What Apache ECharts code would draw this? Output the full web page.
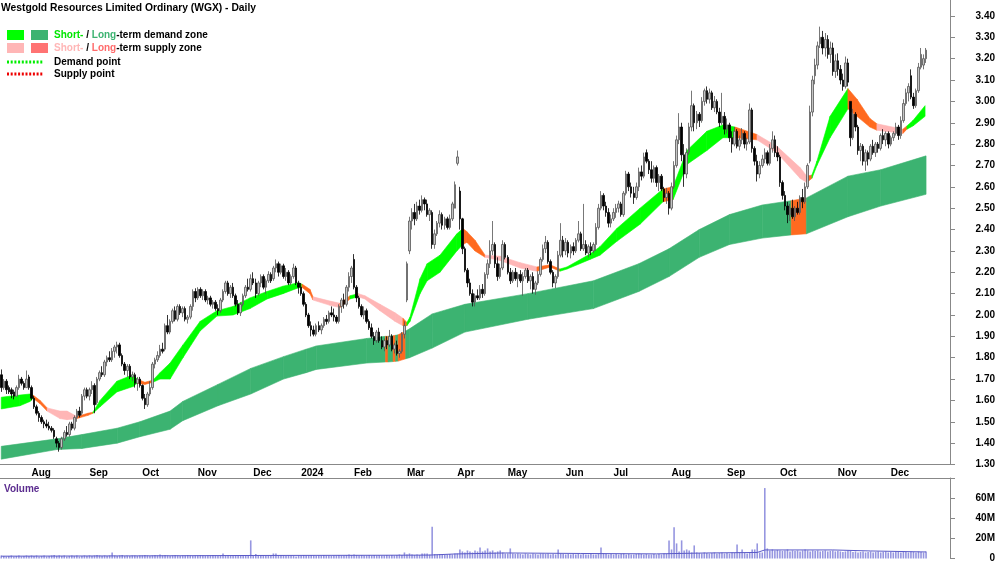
<!DOCTYPE html>
<html><head><meta charset="utf-8">
<script src="https://cdn.jsdelivr.net/npm/echarts@6/dist/echarts.min.js"></script>
<style>html,body{margin:0;padding:0;background:#fff}#c{width:1000px;height:562px}</style>
</head><body><div id="c"></div>
<script>
// ---------- DATA ----------
const monthNames = ['Jul','Aug','Sep','Oct','Nov','Dec','2024','Feb','Mar','Apr','May','Jun','Jul','Aug','Sep','Oct','Nov','Dec'];
const monthDays = [12,23,21,22,22,19,21,21,20,20,23,19,23,22,21,23,21,15];
const padDays = 9;

const openP = [
1.72,1.66,1.69,1.66,1.65,1.64,1.62,1.66,1.70,1.68,1.66,1.71,
1.66,1.61,1.57,1.54,1.52,1.50,1.49,1.48,1.47,1.46,1.42,1.40,1.38,1.42,1.45,1.44,1.49,1.47,1.52,1.55,1.54,1.62,1.65,
1.62,1.65,1.67,1.59,1.70,1.73,1.72,1.78,1.80,1.79,1.83,1.85,1.86,1.81,1.77,1.74,1.76,1.71,1.72,1.68,1.70,
1.67,1.61,1.58,1.63,1.66,1.77,1.79,1.81,1.84,1.84,1.95,1.92,1.97,2.02,1.98,2.04,2.01,2.03,1.98,1.99,2.04,2.11,
2.08,2.12,2.09,2.11,2.07,2.08,2.05,2.06,2.03,2.02,2.07,2.11,2.15,2.10,2.13,2.09,2.05,2.01,2.05,2.09,2.13,2.12,
2.17,2.15,2.10,2.15,2.18,2.13,2.16,2.19,2.17,2.22,2.24,2.20,2.23,2.18,2.20,2.15,2.18,2.22,2.15,
2.13,2.10,2.05,2.00,1.95,1.93,1.91,1.95,1.93,1.95,1.98,1.97,2.01,2.00,1.99,1.97,2.04,2.07,2.05,2.13,2.18,
2.26,2.13,2.08,2.04,2.00,2.02,1.97,1.94,1.90,1.88,1.92,1.88,1.85,1.88,1.86,1.90,1.84,1.86,1.82,1.83,1.91,
2.07,2.30,2.44,2.48,2.45,2.51,2.49,2.54,2.52,2.47,2.48,2.33,2.38,2.43,2.47,2.42,2.45,2.41,2.45,2.50,
2.71,2.58,2.45,2.31,2.21,2.15,2.10,2.06,2.09,2.08,2.12,2.10,2.19,2.24,2.30,2.33,2.24,2.18,2.22,2.33,
2.27,2.20,2.16,2.20,2.17,2.19,2.16,2.18,2.21,2.16,2.18,2.12,2.15,2.19,2.26,2.31,2.34,2.25,2.20,2.15,2.18,2.28,2.35,
2.30,2.34,2.29,2.32,2.30,2.35,2.38,2.31,2.33,2.29,2.32,2.30,2.33,2.41,2.50,2.56,2.51,2.48,2.43,
2.45,2.48,2.50,2.52,2.47,2.57,2.66,2.60,2.57,2.55,2.60,2.67,2.65,2.76,2.72,2.68,2.64,2.69,2.62,2.65,2.59,2.55,2.57,
2.50,2.60,2.70,2.82,2.88,2.75,2.66,2.76,2.88,2.98,2.90,2.94,2.91,3.00,3.05,3.01,3.04,2.97,3.00,2.95,2.90,2.93,
2.87,2.89,2.83,2.80,2.86,2.79,2.82,2.85,2.80,2.81,2.96,2.78,2.72,2.66,2.70,2.73,2.76,2.71,2.78,2.82,2.76,
2.74,2.62,2.56,2.51,2.47,2.50,2.46,2.50,2.48,2.55,2.53,2.60,2.72,2.95,3.12,3.17,3.27,3.30,3.25,3.29,3.22,3.25,3.14,
3.19,3.15,3.10,3.07,3.18,3.00,2.83,2.94,2.88,2.77,2.79,2.72,2.76,2.73,2.79,2.76,2.80,2.78,2.84,2.82,2.85,
2.80,2.83,2.85,2.88,2.84,2.91,2.99,3.04,3.12,3.02,2.98,3.05,3.16,3.17,3.20
];
const highP = [
1.745,1.70,1.70,1.67,1.66,1.65,1.67,1.72,1.71,1.69,1.74,1.72,
1.67,1.62,1.58,1.55,1.53,1.51,1.51,1.50,1.48,1.47,1.43,1.41,1.43,1.46,1.48,1.50,1.50,1.53,1.56,1.57,1.63,1.66,1.66,
1.66,1.69,1.68,1.71,1.74,1.76,1.79,1.81,1.83,1.845,1.86,1.875,1.87,1.82,1.78,1.77,1.77,1.735,1.73,1.71,1.71,
1.675,1.63,1.64,1.69,1.78,1.80,1.83,1.86,1.87,1.96,2.00,1.98,2.03,2.04,2.05,2.05,2.04,2.04,2.00,2.05,2.12,2.125,
2.13,2.13,2.12,2.12,2.09,2.09,2.07,2.07,2.05,2.08,2.12,2.16,2.16,2.14,2.15,2.10,2.07,2.06,2.10,2.14,2.17,2.19,
2.20,2.17,2.16,2.19,2.19,2.17,2.205,2.20,2.23,2.26,2.25,2.24,2.24,2.22,2.21,2.19,2.24,2.23,2.16,
2.15,2.11,2.06,2.01,1.97,1.95,1.96,1.97,1.96,1.99,2.00,2.02,2.04,2.03,2.00,2.05,2.08,2.10,2.14,2.20,2.23,
2.285,2.14,2.09,2.05,2.04,2.03,1.98,1.96,1.92,1.93,1.94,1.90,1.89,1.90,1.93,1.91,1.87,1.88,1.84,1.92,1.97,
2.25,2.46,2.50,2.52,2.53,2.54,2.56,2.55,2.54,2.50,2.49,2.40,2.44,2.49,2.48,2.46,2.46,2.47,2.53,2.625,
2.77,2.60,2.455,2.32,2.22,2.17,2.12,2.10,2.12,2.14,2.145,2.20,2.26,2.35,2.44,2.34,2.27,2.24,2.35,2.34,
2.28,2.22,2.21,2.22,2.20,2.21,2.20,2.22,2.22,2.19,2.20,2.16,2.205,2.27,2.33,2.37,2.35,2.26,2.21,2.19,2.30,2.43,2.37,
2.36,2.35,2.33,2.34,2.36,2.44,2.39,2.52,2.35,2.33,2.34,2.34,2.43,2.52,2.58,2.57,2.53,2.50,2.47,
2.50,2.52,2.535,2.53,2.58,2.675,2.67,2.62,2.60,2.62,2.69,2.70,2.76,2.775,2.73,2.72,2.70,2.70,2.66,2.66,2.60,2.595,2.58,
2.62,2.72,2.84,2.945,2.90,2.80,2.78,2.90,3.05,2.99,2.955,2.95,3.02,3.06,3.07,3.06,3.05,3.025,3.01,2.97,3.04,2.95,
2.92,2.90,2.86,2.88,2.87,2.84,2.875,2.86,2.83,2.99,2.97,2.79,2.75,2.72,2.75,2.78,2.77,2.80,2.86,2.84,2.79,
2.75,2.63,2.58,2.53,2.52,2.54,2.51,2.53,2.56,2.59,2.62,2.71,2.98,3.12,3.20,3.28,3.35,3.33,3.32,3.31,3.28,3.275,3.22,
3.225,3.17,3.13,3.21,3.20,3.00,2.965,2.95,2.89,2.805,2.80,2.775,2.77,2.80,2.82,2.81,2.81,2.85,2.87,2.86,2.86,
2.84,2.86,2.90,2.89,2.93,3.01,3.06,3.085,3.15,3.04,3.06,3.18,3.25,3.22,3.25
];
const lowP = [
1.64,1.65,1.63,1.63,1.61,1.605,1.62,1.65,1.67,1.65,1.66,1.65,
1.60,1.56,1.53,1.50,1.49,1.47,1.47,1.46,1.45,1.42,1.38,1.36,1.37,1.41,1.43,1.43,1.46,1.46,1.50,1.52,1.53,1.60,1.61,
1.60,1.63,1.54,1.58,1.69,1.71,1.71,1.76,1.78,1.78,1.80,1.82,1.80,1.76,1.72,1.71,1.70,1.69,1.66,1.645,1.66,
1.60,1.56,1.57,1.62,1.65,1.75,1.78,1.80,1.82,1.83,1.91,1.91,1.96,1.97,1.97,2.00,1.99,1.97,1.96,1.98,2.02,2.06,
2.07,2.08,2.07,2.06,2.05,2.04,2.03,2.02,2.00,2.01,2.06,2.10,2.09,2.08,2.08,2.04,2.00,1.995,2.04,2.08,2.11,2.11,
2.14,2.08,2.09,2.13,2.12,2.10,2.15,2.15,2.16,2.20,2.18,2.19,2.17,2.16,2.14,2.14,2.17,2.14,2.10,
2.09,2.04,1.99,1.94,1.90,1.90,1.90,1.92,1.91,1.94,1.955,1.96,1.99,1.97,1.96,1.96,2.01,2.03,2.04,2.11,2.15,
2.12,2.06,2.03,1.99,1.98,1.96,1.93,1.89,1.86,1.87,1.87,1.84,1.83,1.84,1.85,1.83,1.82,1.81,1.80,1.82,1.89,
2.06,2.285,2.40,2.42,2.44,2.47,2.48,2.49,2.46,2.44,2.31,2.31,2.37,2.41,2.40,2.40,2.40,2.40,2.44,2.50,
2.70,2.40,2.285,2.20,2.13,2.09,2.04,2.04,2.07,2.07,2.08,2.09,2.17,2.22,2.28,2.22,2.16,2.17,2.21,2.26,
2.19,2.145,2.15,2.16,2.13,2.15,2.09,2.17,2.15,2.12,2.10,2.095,2.14,2.18,2.25,2.29,2.24,2.19,2.13,2.125,2.17,2.27,2.27,
2.28,2.27,2.265,2.28,2.29,2.34,2.30,2.30,2.28,2.27,2.28,2.29,2.30,2.40,2.49,2.49,2.46,2.41,2.41,
2.44,2.455,2.48,2.46,2.46,2.56,2.58,2.55,2.52,2.54,2.58,2.63,2.64,2.71,2.66,2.62,2.62,2.60,2.58,2.58,2.53,2.52,2.47,
2.49,2.59,2.69,2.80,2.72,2.60,2.64,2.75,2.86,2.86,2.87,2.88,2.90,2.98,2.99,2.99,2.96,2.95,2.94,2.88,2.89,2.845,
2.85,2.81,2.76,2.79,2.78,2.77,2.80,2.78,2.77,2.80,2.76,2.70,2.625,2.64,2.69,2.71,2.70,2.70,2.76,2.74,2.72,
2.60,2.54,2.49,2.43,2.44,2.45,2.44,2.47,2.47,2.50,2.52,2.59,2.71,2.93,3.08,3.15,3.25,3.22,3.21,3.20,3.18,3.12,3.11,
3.12,3.08,3.05,3.06,3.07,2.79,2.82,2.86,2.75,2.72,2.70,2.675,2.70,2.72,2.75,2.74,2.76,2.77,2.80,2.79,2.78,
2.79,2.815,2.84,2.82,2.825,2.90,2.98,3.00,3.01,2.965,2.97,3.04,3.15,3.15,3.18
];
const closeP = [
1.66,1.69,1.65,1.64,1.63,1.62,1.66,1.70,1.68,1.66,1.70,1.66,
1.61,1.57,1.54,1.52,1.50,1.49,1.48,1.47,1.46,1.43,1.40,1.38,1.42,1.45,1.44,1.49,1.47,1.52,1.55,1.53,1.62,1.65,1.62,
1.65,1.67,1.58,1.70,1.73,1.72,1.78,1.80,1.79,1.83,1.85,1.86,1.81,1.77,1.74,1.76,1.71,1.72,1.68,1.70,1.67,
1.61,1.58,1.63,1.66,1.77,1.79,1.81,1.84,1.83,1.95,1.92,1.97,2.02,1.98,2.04,2.01,2.03,1.98,1.99,2.04,2.11,2.08,
2.12,2.09,2.11,2.07,2.08,2.05,2.06,2.03,2.02,2.07,2.11,2.15,2.10,2.13,2.09,2.05,2.01,2.05,2.09,2.13,2.12,2.17,
2.15,2.10,2.15,2.18,2.13,2.16,2.19,2.16,2.22,2.24,2.20,2.23,2.18,2.20,2.15,2.18,2.22,2.15,2.13,
2.10,2.05,2.00,1.95,1.93,1.91,1.95,1.93,1.95,1.98,1.97,2.01,2.00,1.99,1.97,2.04,2.07,2.05,2.13,2.18,2.22,
2.13,2.08,2.04,2.00,2.02,1.97,1.94,1.90,1.88,1.92,1.88,1.85,1.88,1.86,1.90,1.84,1.86,1.82,1.83,1.91,1.95,
2.24,2.44,2.48,2.45,2.51,2.49,2.54,2.52,2.47,2.49,2.33,2.38,2.43,2.47,2.42,2.45,2.41,2.45,2.52,2.61,
2.74,2.45,2.31,2.21,2.15,2.10,2.06,2.09,2.08,2.12,2.10,2.19,2.24,2.30,2.33,2.24,2.18,2.22,2.33,2.27,
2.20,2.16,2.20,2.17,2.19,2.16,2.18,2.21,2.16,2.18,2.12,2.15,2.19,2.26,2.31,2.34,2.25,2.20,2.15,2.18,2.28,2.35,2.30,
2.34,2.29,2.32,2.30,2.35,2.38,2.31,2.33,2.29,2.32,2.30,2.33,2.41,2.50,2.56,2.51,2.48,2.43,2.45,
2.48,2.50,2.52,2.47,2.57,2.66,2.60,2.57,2.55,2.60,2.67,2.65,2.74,2.72,2.68,2.64,2.69,2.62,2.65,2.59,2.55,2.57,2.50,
2.60,2.70,2.82,2.88,2.75,2.66,2.76,2.88,2.98,2.90,2.94,2.91,3.00,3.05,3.01,3.04,2.97,3.00,2.95,2.90,2.93,2.87,
2.89,2.83,2.80,2.86,2.79,2.82,2.85,2.80,2.81,2.96,2.78,2.72,2.66,2.70,2.73,2.76,2.71,2.78,2.82,2.76,2.74,
2.62,2.56,2.51,2.47,2.50,2.46,2.50,2.48,2.55,2.53,2.60,2.70,2.95,3.10,3.17,3.26,3.30,3.25,3.29,3.22,3.25,3.14,3.19,
3.15,3.10,3.07,3.18,3.09,2.83,2.94,2.88,2.77,2.79,2.72,2.76,2.73,2.79,2.76,2.80,2.78,2.84,2.82,2.85,2.80,
2.83,2.85,2.88,2.84,2.91,2.99,3.04,3.07,3.02,2.98,3.05,3.16,3.22,3.20,3.24
];
// volume in millions
const volumeM = [
3,2.5,2,2.5,3,2,2.5,3,2,2.5,3,2.5,
3,2.5,3,2,2.5,3,2,2.5,3,3.5,2.5,3,2.5,3,2,2.5,3,2.5,3,2,2.5,3,2.5,
3,2.5,3,3.5,3,2.5,3,2.5,3,6,3,2.5,3,3.5,2.5,3,2.5,3,3,2.5,3,
3,3.5,3,2.5,3,3.5,3,4,3,3.5,3,2.5,3,3.5,3,2.5,3,3,3.5,3,2.5,3,
3,3.5,3,2.5,3,3,3.5,3,2.5,3,5,3,3.5,3,2.5,3,3,3.5,3,2.5,3,18,
3.5,4.5,3,3.5,3,2.5,3,3.5,5,5,3,3.5,3,2.5,3,3,2.5,2,3,
3,3.5,3,3,3.5,3,2.5,3,3,3.5,3,3,2.5,3,3,3.5,3,3,3.5,4,3.5,
4,3.5,3,3.5,3,3,3.5,3,3.5,3,3.5,3,3,3.5,3,3.5,3,3.5,4,3.5,6,
4,5,4,3.5,4,3.5,5,5,5,4,31.5,4.5,4,4.5,4,3.5,4,4.5,4,5,
5,9,7,6,8,7,6,8,7,11,7,8,10,7,8,6,7,8,6,5,
5,10,5,4.5,5,4.5,4,5,4.5,4,5,4.5,4,5,5,4.5,5,4,4.5,4,9,5,4.5,
4,4.5,4,4.5,4,5,4,4.5,4,4,4.5,4,4,5,11,5,4.5,4,4.5,
4,4.5,4,4.5,5,4,4.5,4,4,4.5,5,4.5,4,4.5,4,4,4.5,4,4.5,4,5,4.5,18,
9,31,15,7,18,8,9,8,6,13,6,5.5,5,6,5.5,5,5.5,6,5,5.5,6,5,
5.5,5,6,5.5,14,6,9,5.5,5,6,9,9,15,6,6,70,10,8,9,8,8.5,
8,7.5,8,9,7,8,7.5,8,7,8,9,8,7,8,7.5,8,7,7.5,8,7,7.5,8,7,
7.5,7,6.5,7,8,7.5,6.5,7,6,6.5,7,6,6.5,7,6,6.5,7,6,6.5,7,6,
6.5,6,7,6.5,6,7,6.5,6,7,6.5,6,7,6.5,6,7
];
const volAvgX = [0,50,100,150,170,180,200,230,260,280,300,303,330,345,367];
const volAvgM = [2.3,2.6,3.0,3.2,3.4,4.5,5.5,5.0,4.6,5.5,6.0,8.5,8.5,7.5,6.5];

// long-term zone (day index, lower edge, upper edge), state of each segment: G demand / O supply
const longX  = [0,22,32,46,55,67,72,86,99,112,121,125,145,152.5,153.5,155.5,156.5,157.5,160.5,162,171,184,209,235,253,265,277,289,302,313.5,319.5,336,349,367];
const longLo = [1.325,1.37,1.375,1.40,1.43,1.465,1.505,1.575,1.63,1.70,1.73,1.745,1.775,1.78,1.78,1.782,1.783,1.784,1.795,1.80,1.845,1.92,1.98,2.03,2.11,2.18,2.27,2.33,2.36,2.375,2.38,2.46,2.51,2.565];
const longHi = [1.385,1.42,1.44,1.47,1.50,1.55,1.595,1.675,1.75,1.805,1.84,1.855,1.89,1.90,1.90,1.903,1.905,1.907,1.925,1.935,2.005,2.05,2.10,2.16,2.24,2.31,2.40,2.47,2.515,2.535,2.548,2.65,2.68,2.745];
const longState = 'GGGGGGGGGGGGGOGOGOGGGGGGGGGGGOGGG'.split('');

// short-term zone: G demand / P supply / O turning
const shortX  = [0,7.4,11.4,12.6,15.4,18.2,23.3,26.1,30,34.4,36.4,39.2,45.9,52.3,53.9,57,60.2,63,67,72.1,78.9,85.6,92,98.7,105.5,111.8,117.4,119.3,122.5,123.7,130.5,134.4,138.4,141.6,144.3,150.3,156.3,159.4,161,162.2,166.2,169,174.1,180.8,183.2,184.8,188,192,198,205.9,212.6,217.8,221.7,224.5,233.6,237.6,244.3,253.5,262.6,266.6,272.1,280,286.4,291.2,299.9,307.8,317,319.7,321.7,323.7,328.9,336,339.6,344.7,347.5,357.8,359.4,361.8,366.6];
const shortLo = [1.56,1.575,1.595,1.61,1.585,1.55,1.515,1.51,1.515,1.53,1.54,1.57,1.64,1.665,1.68,1.675,1.685,1.70,1.70,1.80,1.925,1.995,2.00,2.03,2.075,2.10,2.125,2.13,2.10,2.07,2.045,2.035,2.075,2.085,2.075,2.02,1.97,1.95,1.95,1.97,2.10,2.16,2.20,2.30,2.33,2.34,2.30,2.27,2.255,2.22,2.205,2.225,2.205,2.215,2.26,2.28,2.345,2.425,2.53,2.54,2.705,2.77,2.83,2.83,2.82,2.76,2.64,2.62,2.64,2.70,2.83,2.965,2.93,2.88,2.865,2.85,2.87,2.885,2.93];
const shortHi = [1.615,1.625,1.63,1.625,1.60,1.565,1.55,1.55,1.525,1.54,1.545,1.60,1.69,1.72,1.70,1.685,1.695,1.73,1.775,1.86,1.97,2.02,2.04,2.08,2.11,2.135,2.15,2.145,2.12,2.085,2.065,2.055,2.09,2.10,2.09,2.05,2.01,1.985,1.965,1.99,2.17,2.24,2.28,2.38,2.405,2.39,2.35,2.28,2.275,2.245,2.225,2.235,2.215,2.225,2.285,2.32,2.405,2.50,2.59,2.60,2.77,2.86,2.89,2.88,2.845,2.79,2.69,2.65,2.655,2.72,2.93,3.06,3.01,2.92,2.895,2.87,2.885,2.91,2.98];
const shortState = ('GGGOOPPPOO'+'GGGGOOGGGG'+'GGGGGGGOOP'+'POGPPPPOGG'+'GGGGOOOPPP'+'OOGGGGGGOG'+'GGGOPPPOGG'+'GOOOPOGG').split('');

// ---------- BUILD ----------
const cats = [], labelAt = [];
monthDays.forEach((n, m) => { for (let d = 0; d < n; d++) { cats.push(String(cats.length)); labelAt.push(d === 0 && m > 0 ? monthNames[m] : ''); } });
for (let k = 0; k < padDays; k++) { cats.push(String(cats.length)); labelAt.push(''); }
const N = cats.length;
const isMonth = (i) => labelAt[i] !== '';

const FONT = '"Liberation Sans", Arial, sans-serif';
const COL = { G: '#00ff00', P: '#ffb6b6', O: '#ff6a1f', L: '#3cb371' };

function bandSeries(xs, lo, hi, st, colorMap, z) {
  return {
    type: 'custom', xAxisIndex: 1, yAxisIndex: 0, z: z, silent: true,
    data: xs.slice(0, -1).map((x, k) => [x, xs[k + 1], lo[k], hi[k], lo[k + 1], hi[k + 1], k]),
    encode: { x: [0, 1], y: [2, 3, 4, 5] },
    renderItem: function (params, api) {
      const x0 = api.value(0), x1 = api.value(1);
      const pts = [api.coord([x0, api.value(3)]), api.coord([x1, api.value(5)]),
                   api.coord([x1, api.value(4)]), api.coord([x0, api.value(2)])];
      const c = colorMap[st[api.value(6)]];
      return { type: 'polygon', shape: { points: pts }, style: { fill: c, stroke: c, lineWidth: 0.6 } };
    }
  };
}

const chart = echarts.init(document.getElementById('c'));
const lf = 'bold 10px ' + FONT;
const hiddenValueAxis = (g) => ({ type: 'value', gridIndex: g, min: -0.5, max: N - 0.5, show: false,
  axisLine: { show: false, onZero: false }, axisTick: { show: false }, axisLabel: { show: false }, splitLine: { show: false } });
chart.setOption({
  animation: false,
  backgroundColor: '#fff',
  grid: [
    { left: 0, right: 50, top: -5.4, height: 469.9, outerBoundsMode: 'none', containLabel: false },
    { left: 0, right: 50, top: 478, height: 80.5, outerBoundsMode: 'none', containLabel: false }
  ],
  xAxis: [
    { type: 'category', gridIndex: 0, data: cats, boundaryGap: true,
      axisLine: { onZero: false, lineStyle: { color: '#888' } },
      axisTick: { interval: isMonth, length: 4, lineStyle: { color: '#888' } },
      axisLabel: { interval: isMonth, formatter: (v, i) => labelAt[i], align: 'left', margin: 4,
                   fontSize: 10, fontWeight: 'bold', color: '#000', fontFamily: FONT },
      splitLine: { show: false } },
    hiddenValueAxis(0),
    { type: 'category', gridIndex: 1, data: cats, position: 'top',
      axisLine: { onZero: false, lineStyle: { color: '#888' } },
      axisTick: { show: false }, axisLabel: { show: false } },
    hiddenValueAxis(1)
  ],
  yAxis: [
    { type: 'value', gridIndex: 0, position: 'right', min: 1.3, max: 3.5, interval: 0.1,
      axisLine: { show: true, onZero: false, lineStyle: { color: '#888' } },
      axisTick: { show: true, inside: false, length: 5, lineStyle: { color: '#888' } },
      axisLabel: { formatter: v => (v > 3.45 ? '' : v.toFixed(2)), align: 'right', margin: 45,
                   fontSize: 10, fontWeight: 'bold', color: '#000', fontFamily: FONT },
      splitLine: { show: false } },
    { type: 'value', gridIndex: 1, position: 'right', min: 0, max: 80, interval: 20,
      axisLine: { show: true, onZero: false, lineStyle: { color: '#888' } },
      axisTick: { show: true, inside: false, length: 5, lineStyle: { color: '#888' } },
      axisLabel: { formatter: v => (v >= 80 ? '' : (v === 0 ? '0' : v + 'M')), align: 'right', margin: 45,
                   fontSize: 10, fontWeight: 'bold', color: '#000', fontFamily: FONT },
      splitLine: { show: false } }
  ],
  series: [
    bandSeries(longX, longLo, longHi, longState, { G: COL.L, O: COL.O }, 1),
    bandSeries(shortX, shortLo, shortHi, shortState, { G: COL.G, P: COL.P, O: COL.O }, 2),
    { type: 'candlestick', xAxisIndex: 0, yAxisIndex: 0, z: 5, barWidth: 2,
      data: closeP.map((c, i) => [openP[i], c, lowP[i], highP[i]]),
      itemStyle: { color: '#c4c4c4', color0: '#000000', borderColor: '#555555', borderColor0: '#000000', borderWidth: 0.8 } },
    { type: 'bar', xAxisIndex: 2, yAxisIndex: 1, data: volumeM, barWidth: 1.6, z: 2,
      itemStyle: { color: '#9696e0' } },
    { type: 'line', xAxisIndex: 3, yAxisIndex: 1, data: volAvgX.map((x, i) => [x, volAvgM[i]]),
      symbol: 'none', z: 3, lineStyle: { color: '#5a5ac8', width: 1 } }
  ],
  graphic: [
    { type: 'text', x: 1, y: 8, style: { text: 'Westgold Resources Limited Ordinary (WGX) - Daily', font: 'bold 10.3px ' + FONT, fill: '#000', verticalAlign: 'middle' } },
    { type: 'rect', shape: { x: 7, y: 30, width: 17, height: 10 }, style: { fill: '#00ff00' } },
    { type: 'rect', shape: { x: 31, y: 30, width: 17, height: 10 }, style: { fill: '#3cb371' } },
    { type: 'text', x: 54, y: 35, style: { text: '{a|Short-} / {b|Long}-term demand zone', font: lf, fill: '#000', verticalAlign: 'middle',
        rich: { a: { fill: '#00e600', font: lf }, b: { fill: '#3cb371', font: lf } } } },
    { type: 'rect', shape: { x: 7, y: 43, width: 17, height: 10 }, style: { fill: '#ffb6b6' } },
    { type: 'rect', shape: { x: 31, y: 43, width: 17, height: 10 }, style: { fill: '#ff7373' } },
    { type: 'text', x: 54, y: 48, style: { text: '{a|Short-} / {b|Long}-term supply zone', font: lf, fill: '#000', verticalAlign: 'middle',
        rich: { a: { fill: '#ffb6b6', font: lf }, b: { fill: '#ff6b6b', font: lf } } } },
    { type: 'line', shape: { x1: 7, y1: 62, x2: 44, y2: 62 }, style: { stroke: '#00ee00', lineWidth: 3, lineDash: [2, 1.7] } },
    { type: 'text', x: 54, y: 62, style: { text: 'Demand point', font: lf, fill: '#000', verticalAlign: 'middle' } },
    { type: 'line', shape: { x1: 7, y1: 74, x2: 44, y2: 74 }, style: { stroke: '#ee0000', lineWidth: 3, lineDash: [2, 1.7] } },
    { type: 'text', x: 54, y: 74, style: { text: 'Supply point', font: lf, fill: '#000', verticalAlign: 'middle' } },
    { type: 'text', x: 4, y: 489, style: { text: 'Volume', font: lf, fill: '#5b2c8f', verticalAlign: 'middle' } }
  ]
});
</script></body></html>
